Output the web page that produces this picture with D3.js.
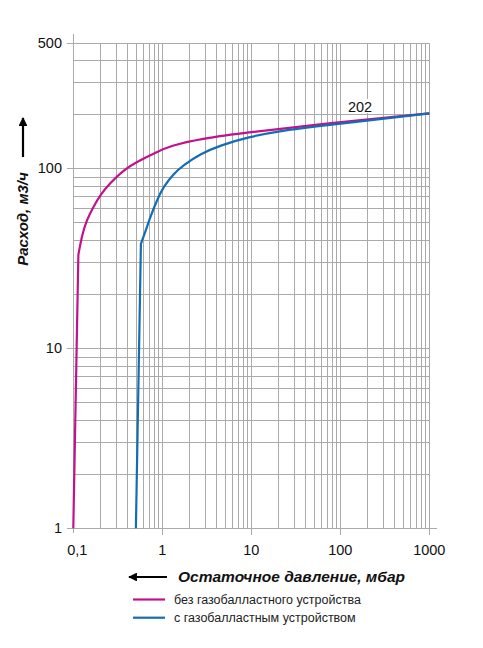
<!DOCTYPE html>
<html>
<head>
  <meta charset="utf-8" />
  <script src="https://d3js.org/d3.v7.min.js"></script>
  <style>
    body { margin: 0; background: #fff; font-family: "Liberation Sans", Arial, sans-serif; }
    .grid line { stroke: #aaaaaa; stroke-width: 1px; shape-rendering: crispEdges; }
    .tick-label { font-size: 14.5px; fill: #111; }
  </style>
</head>
<body>
  <svg id="chart" width="483" height="648"></svg>
  <script>
    // values (pressure in mbar, flow in m3/h)
    const pressureNoGB = [0.1, 0.114, 0.124, 0.141, 0.168, 0.2, 0.258, 0.365, 0.561, 0.865, 1.22, 2.65, 9.66, 59, 1000];
    const flowNoGB = [1, 33, 41.7, 51.6, 61, 71, 82.5, 98, 111, 123, 133, 146, 159, 176, 202];

    const pressureGB = [0.505, 0.575, 0.65, 0.727, 0.865, 1.03, 1.33, 1.72, 2.65, 4.46, 9.66, 20.8, 59, 100, 1000];
    const flowGB = [1, 38, 45, 53, 66, 79, 93, 104, 120, 134, 150, 161, 172, 177, 202];

    const xTicks = [0.1, 1, 10, 100, 1000];
    const xTickLabels = ["0,1", "1", "10", "100", "1000"];
    const yTicks = [1, 10, 100, 500];
    const yTickLabels = ["1", "10", "100", "500"];

    const seriesNames = ["без газобалластного устройства", "с газобалластным устройством"];
    const seriesColors = ["#c2118b", "#136db4"];
    const endLabel = "202";

    const svg = d3.select("#chart");
    const x = d3.scaleLog().domain([0.1, 1000]).range([73.3, 429.3]);
    const y = d3.scaleLog().domain([1, 500]).range([528.3, 42.5]);

    // minor grid values 1..9 per decade
    const xGrid = [];
    for (let e = -1; e < 3; e++) for (let m = 1; m < 10; m++) xGrid.push(m * Math.pow(10, e));
    xGrid.push(1000);
    const yGrid = [];
    for (let e = 0; e < 3; e++) for (let m = 1; m < 10; m++) if (m * Math.pow(10, e) <= 500) yGrid.push(m * Math.pow(10, e));

    const grid = svg.append("g").attr("class", "grid");
    grid.selectAll("line.v").data(xGrid).join("line")
      .attr("class", "v")
      .attr("x1", d => Math.round(x(d)) + 0.5).attr("x2", d => Math.round(x(d)) + 0.5)
      .attr("y1", y(500)).attr("y2", d => xTicks.includes(d) && d !== 0.1 ? y(1) + 7 : y(1));
    grid.selectAll("line.h").data(yGrid).join("line")
      .attr("class", "h")
      .attr("y1", d => Math.round(y(d)) + 0.5).attr("y2", d => Math.round(y(d)) + 0.5)
      .attr("x1", d => yTicks.includes(d) ? x(0.1) - 6 : x(0.1)).attr("x2", x(1000));
    // axis lines
    grid.append("line").attr("x1", Math.round(x(0.1)) + 0.5).attr("x2", Math.round(x(0.1)) + 0.5)
      .attr("y1", 34).attr("y2", y(1) + 5);
    grid.append("line").attr("y1", Math.round(y(1)) + 0.5).attr("y2", Math.round(y(1)) + 0.5)
      .attr("x1", x(0.1) - 6).attr("x2", 437);

    // tick labels
    svg.append("g").selectAll("text").data(xTicks).join("text")
      .attr("class", "tick-label")
      .attr("x", (d, i) => x(d) + (i === 0 ? 4 : 0))
      .attr("y", 555)
      .attr("text-anchor", "middle")
      .text((d, i) => xTickLabels[i]);
    svg.append("g").selectAll("text").data(yTicks).join("text")
      .attr("class", "tick-label")
      .attr("x", 62)
      .attr("y", d => y(d) + 5)
      .attr("text-anchor", "end")
      .text((d, i) => yTickLabels[i]);

    // curves: straight steep part to the kink, then a smoothed curve
    const line = d3.line().x(d => x(d[0])).y(d => y(d[1])).curve(d3.curveBasis);
    const makePath = (px, py) => {
      const pts = px.map((p, i) => [p, py[i]]);
      const curve = line(pts.slice(1));
      return "M" + x(pts[0][0]) + "," + y(pts[0][1]) + "L" + curve.slice(1);
    };
    const series = [[pressureNoGB, flowNoGB], [pressureGB, flowGB]];
    svg.append("g").selectAll("path").data(series).join("path")
      .attr("fill", "none")
      .attr("stroke", (d, i) => seriesColors[i])
      .attr("stroke-width", 2.2)
      .attr("stroke-linejoin", "round")
      .attr("d", d => makePath(d[0], d[1]));

    // end value label with white background
    const lbl = svg.append("g");
    const lblText = lbl.append("text")
      .attr("x", 360).attr("y", 112)
      .attr("text-anchor", "middle")
      .attr("font-size", "14.5px")
      .attr("fill", "#111")
      .text(endLabel);
    const bb = lblText.node().getBBox();
    lbl.insert("rect", "text")
      .attr("x", bb.x - 2).attr("y", bb.y).attr("width", bb.width + 4).attr("height", bb.height - 2)
      .attr("fill", "#fff");

    // arrow markers
    svg.append("defs").append("marker")
      .attr("id", "arrow").attr("viewBox", "0 0 10 10")
      .attr("refX", 9).attr("refY", 5)
      .attr("markerWidth", 4).attr("markerHeight", 4)
      .attr("markerUnits", "strokeWidth")
      .attr("orient", "auto")
      .append("path").attr("d", "M0,0L10,5L0,10Z").attr("fill", "#000");

    // y title
    svg.append("line").attr("x1", 23).attr("x2", 23).attr("y1", 157).attr("y2", 118)
      .attr("stroke", "#000").attr("stroke-width", 2.2).attr("marker-end", "url(#arrow)");
    svg.append("text")
      .attr("transform", "translate(28,219)rotate(-90)")
      .attr("text-anchor", "middle")
      .attr("font-size", "15px").attr("font-weight", "bold").attr("font-style", "italic")
      .attr("fill", "#111")
      .text("Расход, м3/ч");

    // x title
    svg.append("line").attr("x1", 167).attr("x2", 129).attr("y1", 577).attr("y2", 577)
      .attr("stroke", "#000").attr("stroke-width", 2.2).attr("marker-end", "url(#arrow)");
    svg.append("text")
      .attr("x", 178).attr("y", 582)
      .attr("font-size", "15.5px").attr("font-weight", "bold").attr("font-style", "italic")
      .attr("fill", "#111")
      .text("Остаточное давление, мбар");

    // legend
    const legend = svg.append("g").selectAll("g").data(seriesNames).join("g")
      .attr("transform", (d, i) => "translate(133," + (599.5 + i * 18.2) + ")");
    legend.append("line").attr("x1", 0).attr("x2", 32)
      .attr("stroke", (d, i) => seriesColors[i]).attr("stroke-width", 2.2);
    legend.append("text").attr("x", 41).attr("y", 4.5)
      .attr("font-size", "12.5px").attr("fill", "#222")
      .text(d => d);
  </script>
</body>
</html>
